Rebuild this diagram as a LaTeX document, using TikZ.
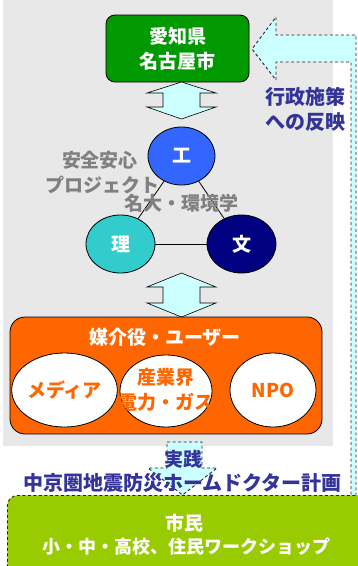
\documentclass[tikz,border=0pt]{standalone}
\usepackage{fontspec}
\setmainfont{Noto Sans CJK JP}
\usetikzlibrary{shapes.geometric}
\definecolor{bgray}{HTML}{E8E8E8}
\definecolor{cgreen}{HTML}{009900}
\definecolor{acyan}{HTML}{CCFFFF}
\definecolor{kblue}{HTML}{3366FF}
\definecolor{rteal}{HTML}{33CCCC}
\definecolor{bnavy}{HTML}{000080}
\definecolor{orng}{HTML}{FF6600}
\definecolor{lime}{HTML}{99CC00}
\definecolor{tblue}{HTML}{333399}
\definecolor{tgray}{HTML}{808080}
\begin{document}
\begin{tikzpicture}[x=1pt,y=-1pt,
  jp/.style={font=\bfseries\fontsize{19}{25}\selectfont, inner sep=0pt, align=center},
  ell/.style={ellipse, draw=black, line width=0.8pt, inner sep=0pt, jp},
  dblarrow/.style={fill=acyan, draw=black, line width=0.6pt},
  dashband/.style={fill=acyan, draw=black!85, line width=0.9pt, dash pattern=on 3pt off 2.5pt},
  wtext/.style={jp, text=white},
  btext/.style={jp, text=tblue},
  gtext/.style={jp, text=tgray},
  otext/.style={jp, text=orng}]
\useasboundingbox (0,0) rectangle (358,566);
\clip (0,0) rectangle (358,566);
% grey background
\fill[bgray] (3,-5) rectangle (333,446);
% feedback band
\path[dashband] (351,500) -- (351,62) -- (276,62) -- (276,80) -- (252,49) -- (276,17) -- (276,35) -- (356,35) -- (356,500);
% top green box
\node[wtext, draw=black, line width=0.8pt, fill=cgreen, rounded corners=9pt,
      minimum width=143pt, minimum height=67pt] (city) at (177.5,48.5) {愛知県\\名古屋市};
% double arrows
\path[dblarrow] (181.5,82) -- (216,93) -- (200,93) -- (200,107) -- (216,107) -- (181.5,119)
  -- (147,107) -- (163,107) -- (163,93) -- (147,93) -- cycle;
\path[dblarrow] (181.5,273) -- (216,287) -- (200,287) -- (200,303) -- (216,303) -- (181.5,317)
  -- (147,303) -- (163,303) -- (163,287) -- (147,287) -- cycle;
% triangle of ellipses
\node[ell, fill=kblue, text=white, minimum width=67pt, minimum height=58pt] (ko) at (181.5,156) {工};
\node[ell, fill=rteal, text=white, minimum width=69pt, minimum height=58pt] (ri) at (120.5,244) {理};
\node[ell, fill=bnavy, text=white, minimum width=69pt, minimum height=58pt] (bun) at (241.5,244) {文};
\draw[line width=0.8pt] (ko) -- (ri);
\draw[line width=0.8pt] (ko) -- (bun);
\draw[line width=0.8pt] (ri) -- (bun);
\node[gtext] (anzen) at (100,160) {安全安心};
\node[gtext] (proj) at (102.5,185) {プロジェクト};
\node[gtext] (meidai) at (181.5,203.5) {名大・環境学};
% orange box
\node[draw=black, line width=0.8pt, fill=orng, rounded corners=15pt,
      minimum width=312pt, minimum height=117pt] (users) at (166,375.5) {};
\node[wtext] (title) at (165,337) {媒介役・ユーザー};
\node[ell, fill=white, otext, minimum width=83pt, minimum height=74pt] (media) at (64.5,390) {メディア};
\node[ell, fill=white, minimum width=92pt, minimum height=72pt] (ind) at (166,391) {};
\node[otext] (indtxt) at (166,390) {産業界\\電力・ガス};
\node[ell, fill=white, otext, minimum width=86pt, minimum height=74pt] (npo) at (273,390) {NPO};
% practice arrow
\path[dashband] (167,442) -- (202,442) -- (202,468) -- (217,468) -- (182.5,495) -- (148,468) -- (167,468) -- cycle;
\node[btext] (jissen) at (183,459) {実践};
\node[btext, font=\bfseries\fontsize{20}{25}\selectfont] (plan) at (182.5,483) {中京圏地震防災ホームドクター計画};
% citizens box
\node[draw=black!85, line width=0.9pt, dash pattern=on 3pt off 2.5pt, fill=lime, rounded corners=10pt,
      minimum width=380pt, minimum height=100pt, anchor=north west] (citizen) at (7,495) {};
\node[wtext] (shimin) at (184,523) {市民};
\node[wtext, font=\bfseries\fontsize{18}{25}\selectfont] (ws) at (186.5,547) {小・中・高校、住民ワークショップ};
% policy label
\node[btext, font=\bfseries\fontsize{20}{25}\selectfont] (policy) at (305.5,109) {行政施策\\への反映};
\end{tikzpicture}
\end{document}
